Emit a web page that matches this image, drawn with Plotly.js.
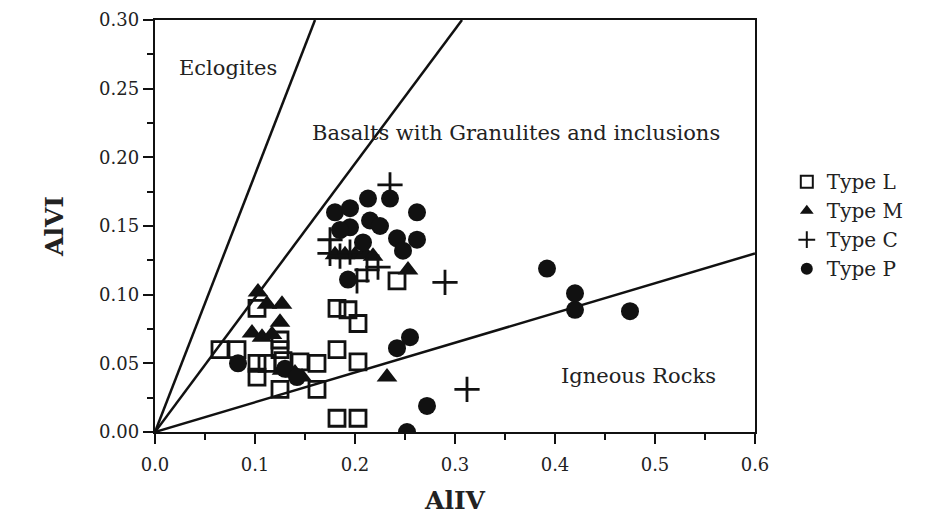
<!DOCTYPE html>
<html><head><meta charset="utf-8">
<script src="https://cdn.plot.ly/plotly-3.0.1.min.js"></script>
<style>body{margin:0;background:#fff}#c{width:945px;height:522px}</style>
</head><body><div id="c"></div>
<script>
// Type L (open squares)
const typeL_x = [0.102,0.182,0.193,0.203,0.065,0.082,0.125,0.125,0.182,0.102,0.112,0.145,0.162,0.203,0.102,0.125,0.162,0.182,0.203,0.242,0.128];
const typeL_y = [0.090,0.090,0.089,0.079,0.060,0.060,0.067,0.060,0.060,0.050,0.050,0.051,0.050,0.051,0.040,0.031,0.031,0.010,0.010,0.110,0.052];
// Type M (filled triangles)
const typeM_x = [0.103,0.112,0.127,0.125,0.097,0.107,0.117,0.127,0.140,0.147,0.232,0.253,0.180,0.190,0.200,0.210,0.218];
const typeM_y = [0.102,0.093,0.093,0.080,0.072,0.069,0.071,0.045,0.043,0.040,0.040,0.118,0.129,0.129,0.129,0.130,0.128];
// Type C (plus)
const typeC_x = [0.235,0.175,0.175,0.290,0.312,0.212,0.223,0.202,0.185,0.195];
const typeC_y = [0.180,0.140,0.130,0.109,0.031,0.118,0.120,0.110,0.128,0.131];
// Type P (filled circles)
const typeP_x = [0.252,0.272,0.255,0.242,0.392,0.420,0.420,0.475,0.083,0.193,0.180,0.195,0.213,0.235,0.262,0.262,0.242,0.195,0.215,0.208,0.248,0.185,0.225,0.130,0.142];
const typeP_y = [0.000,0.019,0.069,0.061,0.119,0.101,0.089,0.088,0.050,0.111,0.160,0.163,0.170,0.170,0.160,0.140,0.141,0.149,0.154,0.138,0.132,0.147,0.150,0.046,0.040];
// Boundary lines (from origin)
const lineEclogite_x = [0, 0.16],  lineEclogite_y = [0, 0.30];
const lineBasalt_x   = [0, 0.307], lineBasalt_y   = [0, 0.30];
const lineIgneous_x  = [0, 0.60],  lineIgneous_y  = [0, 0.13];
const regionLabels = ["Eclogites","Basalts with Granulites and inclusions","Igneous Rocks"];
const regionX = [0.073, 0.361, 0.483];
const regionY = [0.265, 0.218, 0.041];

const F = "DejaVu Serif, Liberation Serif, serif";
const lineTrace = (x,y)=>({x,y,mode:'lines',line:{color:'#111',width:2.5},showlegend:false,hoverinfo:'skip'});
const traces = [
  lineTrace(lineEclogite_x,lineEclogite_y),
  lineTrace(lineBasalt_x,lineBasalt_y),
  lineTrace(lineIgneous_x,lineIgneous_y),
  {x:typeL_x,y:typeL_y,mode:'markers',name:'Type L',marker:{symbol:'square-open',size:16,color:'#111',line:{width:2.8,color:'#111'}}},
  {x:typeM_x,y:typeM_y,mode:'markers',name:'Type M',marker:{symbol:'triangle-up',size:18,color:'#111'}},
  {x:typeC_x,y:typeC_y,mode:'markers',name:'Type C',marker:{symbol:'cross-thin',size:18,color:'#111',line:{width:2.8,color:'#111'}}},
  {x:typeP_x,y:typeP_y,mode:'markers',name:'Type P',marker:{symbol:'circle',size:18,color:'#111'}}
];
const annotations = regionLabels.map((t,i)=>({x:regionX[i],y:regionY[i],text:t,showarrow:false,font:{family:F,size:21,color:'#222'},xanchor:'center',yanchor:'middle'}));
const layout = {
  width:945,height:522,margin:{l:155,r:190,t:20,b:90},
  paper_bgcolor:'#fff',plot_bgcolor:'#fff',showlegend:true,
  font:{family:F,color:'#222',size:17},
  xaxis:{range:[0,0.6],dtick:0.1,tick0:0,tickformat:'.1f',showgrid:false,zeroline:false,
    showline:true,mirror:true,linecolor:'#111',linewidth:2.2,ticks:'outside',ticklen:10,tickwidth:2,tickcolor:'#111',ticklabelstandoff:5,
    minor:{dtick:0.05,ticklen:6,tickwidth:2,tickcolor:'#111',ticks:'outside'},
    title:{text:'<b>AlIV</b>',font:{family:F,size:25,color:'#222'},standoff:18},tickfont:{family:F,size:18}},
  yaxis:{range:[0,0.30],dtick:0.05,tick0:0,tickformat:'.2f',showgrid:false,zeroline:false,
    showline:true,mirror:true,linecolor:'#111',linewidth:2.2,ticks:'outside',ticklen:10,tickwidth:2,tickcolor:'#111',
    minor:{dtick:0.025,ticklen:6,tickwidth:2,tickcolor:'#111',ticks:'outside'},
    title:{text:'<b>AlVI</b>',font:{family:F,size:25,color:'#222'},standoff:28},tickfont:{family:F,size:18}},
  legend:{x:1.053,y:0.655,xanchor:'left',yanchor:'top',font:{family:F,size:20,color:'#222'},tracegroupgap:0,itemsizing:'constant'},
  annotations
};
Plotly.newPlot('c',traces,layout,{staticPlot:true});
</script></body></html>
